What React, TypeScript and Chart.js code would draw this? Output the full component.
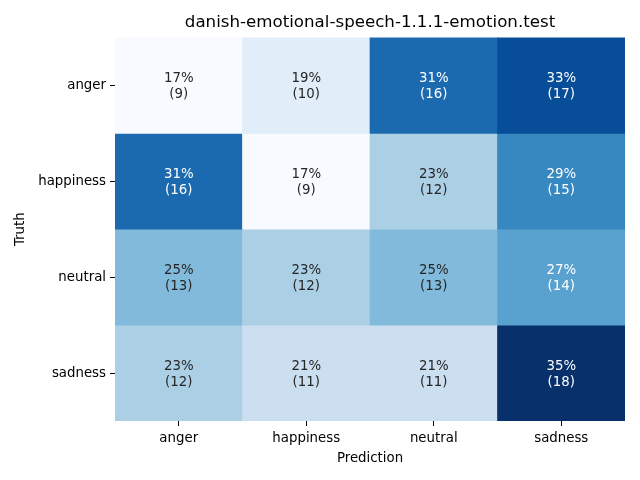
import React, { useEffect, useRef } from "react";
import { Chart, registerables } from "chart.js";

Chart.register(...registerables);

const TITLE = "danish-emotional-speech-1.1.1-emotion.test";
const predictionLabels = ["anger", "happiness", "neutral", "sadness"];
const truthLabels = ["anger", "happiness", "neutral", "sadness"];
// counts per truth row, columns are predictions
const angerRow = [9, 10, 16, 17];
const happinessRow = [16, 9, 12, 15];
const neutralRow = [13, 12, 13, 14];
const sadnessRow = [12, 11, 11, 18];
const rows = [angerRow, happinessRow, neutralRow, sadnessRow];

const FONT = "'DejaVu Sans', sans-serif";

const BLUES: [number, number, number][] = [
  [247, 251, 255],
  [222, 235, 247],
  [198, 219, 239],
  [158, 202, 225],
  [107, 174, 214],
  [66, 146, 198],
  [33, 113, 181],
  [8, 81, 156],
  [8, 48, 107],
];

function blues(t: number): [number, number, number] {
  const x = Math.max(0, Math.min(1, t)) * (BLUES.length - 1);
  const i = Math.min(BLUES.length - 2, Math.floor(x));
  const f = x - i;
  const a = BLUES[i];
  const b = BLUES[i + 1];
  return [0, 1, 2].map((k) => a[k] + (b[k] - a[k]) * f) as [number, number, number];
}

function luminance(c: [number, number, number]): number {
  const lin = c.map((v) => {
    const s = v / 255;
    return s <= 0.03928 ? s / 12.92 : Math.pow((s + 0.055) / 1.055, 2.4);
  });
  return 0.2126 * lin[0] + 0.7152 * lin[1] + 0.0722 * lin[2];
}

export default function App() {
  const ref = useRef<HTMLCanvasElement | null>(null);

  useEffect(() => {
    document.body.style.margin = "0";
    const all = rows.flat();
    const vmin = Math.min(...all);
    const vmax = Math.max(...all);
    const colorOf = (v: number) => blues((v - vmin) / (vmax - vmin));
    const rgb = (c: [number, number, number]) =>
      `rgb(${Math.round(c[0])},${Math.round(c[1])},${Math.round(c[2])})`;

    const datasets = rows.map((row, i) => ({
      label: truthLabels[i],
      data: row.map(() => [i, i + 1] as [number, number]),
      backgroundColor: row.map((v) => rgb(colorOf(v))),
      borderWidth: 0,
      borderSkipped: false as const,
      grouped: false,
      barPercentage: 1,
      categoryPercentage: 1,
    }));

    const annot = {
      id: "annot",
      afterDatasetsDraw(chart: any) {
        const ctx = chart.ctx;
        ctx.save();
        ctx.font = `13.33px ${FONT}`;
        ctx.textAlign = "center";
        ctx.textBaseline = "middle";
        rows.forEach((row, i) => {
          const total = row.reduce((s, v) => s + v, 0);
          const meta = chart.getDatasetMeta(i);
          meta.data.forEach((el: any, j: number) => {
            const v = row[j];
            const c = colorOf(v);
            ctx.fillStyle = luminance(c) > 0.408 ? "#262626" : "#ffffff";
            const cx = el.x;
            const cy = (el.y + el.base) / 2;
            const pct = Math.round((v / total) * 100);
            ctx.fillText(`${pct}%`, cx, cy - 7);
            ctx.fillText(`(${v})`, cx, cy + 9);
          });
        });
        ctx.restore();
      },
    };

    const chart = new Chart(ref.current!, {
      type: "bar",
      data: { labels: predictionLabels, datasets: datasets as any },
      options: {
        responsive: false,
        animation: false,
        layout: { padding: { left: 0, right: 15, top: 0, bottom: 0 } },
        plugins: {
          legend: { display: false },
          tooltip: { enabled: false },
          title: {
            display: true,
            text: TITLE,
            color: "#000",
            fullSize: false,
            font: { family: FONT, size: 16.67, weight: "normal" },
            padding: { top: 13, bottom: 4.4 },
          },
        },
        scales: {
          x: {
            type: "category",
            offset: true,
            grid: {
              offset: false,
              drawOnChartArea: false,
              drawTicks: true,
              tickLength: 5,
              color: "#000",
            },
            border: { display: false },
            ticks: {
              color: "#000",
              padding: 5,
              font: { family: FONT, size: 13.33 },
              maxRotation: 0,
            },
            title: {
              display: true,
              text: "Prediction",
              color: "#000",
              font: { family: FONT, size: 13.33 },
              padding: { top: 0, bottom: 13 },
            },
            afterFit(scale: any) {
              scale.height = 59;
            },
          },
          y: {
            type: "linear",
            min: 0,
            max: 4,
            reverse: true,
            afterBuildTicks(scale: any) {
              scale.ticks = [0.5, 1.5, 2.5, 3.5].map((v) => ({ value: v }));
            },
            grid: {
              drawOnChartArea: false,
              drawTicks: true,
              tickLength: 5,
              color: "#000",
            },
            border: { display: false },
            ticks: {
              color: "#000",
              padding: 4,
              font: { family: FONT, size: 13.33 },
              callback: (_v: any, idx: number) => truthLabels[idx],
            },
            title: {
              display: true,
              text: "Truth",
              color: "#000",
              font: { family: FONT, size: 13.33 },
              padding: { top: 13, bottom: 0 },
            },
            afterFit(scale: any) {
              scale.width = 115;
            },
          },
        },
      },
      plugins: [annot],
    });
    return () => chart.destroy();
  }, []);

  return (
    <div style={{ width: 640, height: 480 }}>
      <canvas ref={ref} width={640} height={480} />
    </div>
  );
}
